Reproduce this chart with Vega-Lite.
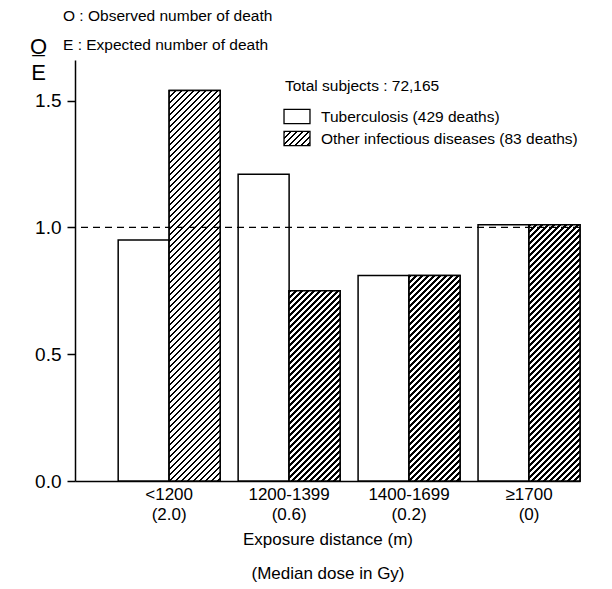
{
  "$schema": "https://vega.github.io/schema/vega-lite/v6.json",
  "width": 505,
  "height": 421,
  "autosize": {"type": "none"},
  "padding": {"left": 75, "top": 60, "right": 32, "bottom": 108},
  "config": {
    "font": "Liberation Sans",
    "view": {"stroke": null},
    "axis": {"labelColor": "black", "titleColor": "black", "domainColor": "black", "tickColor": "black", "grid": false, "titleFontWeight": "normal"}
  },
  "params": [
    {"name": "hatch", "value": [
{"offset":0,"color":"#000"},{"offset":0.005,"color":"#000"},{"offset":0.005,"color":"#fff"},{"offset":0.0125,"color":"#fff"},
{"offset":0.0125,"color":"#000"},{"offset":0.0175,"color":"#000"},{"offset":0.0175,"color":"#fff"},{"offset":0.025,"color":"#fff"},
{"offset":0.025,"color":"#000"},{"offset":0.03,"color":"#000"},{"offset":0.03,"color":"#fff"},{"offset":0.0375,"color":"#fff"},
{"offset":0.0375,"color":"#000"},{"offset":0.0425,"color":"#000"},{"offset":0.0425,"color":"#fff"},{"offset":0.05,"color":"#fff"},
{"offset":0.05,"color":"#000"},{"offset":0.055,"color":"#000"},{"offset":0.055,"color":"#fff"},{"offset":0.0625,"color":"#fff"},
{"offset":0.0625,"color":"#000"},{"offset":0.0675,"color":"#000"},{"offset":0.0675,"color":"#fff"},{"offset":0.075,"color":"#fff"},
{"offset":0.075,"color":"#000"},{"offset":0.08,"color":"#000"},{"offset":0.08,"color":"#fff"},{"offset":0.0875,"color":"#fff"},
{"offset":0.0875,"color":"#000"},{"offset":0.0925,"color":"#000"},{"offset":0.0925,"color":"#fff"},{"offset":0.1,"color":"#fff"},
{"offset":0.1,"color":"#000"},{"offset":0.105,"color":"#000"},{"offset":0.105,"color":"#fff"},{"offset":0.1125,"color":"#fff"},
{"offset":0.1125,"color":"#000"},{"offset":0.1175,"color":"#000"},{"offset":0.1175,"color":"#fff"},{"offset":0.125,"color":"#fff"},
{"offset":0.125,"color":"#000"},{"offset":0.13,"color":"#000"},{"offset":0.13,"color":"#fff"},{"offset":0.1375,"color":"#fff"},
{"offset":0.1375,"color":"#000"},{"offset":0.1425,"color":"#000"},{"offset":0.1425,"color":"#fff"},{"offset":0.15,"color":"#fff"},
{"offset":0.15,"color":"#000"},{"offset":0.155,"color":"#000"},{"offset":0.155,"color":"#fff"},{"offset":0.1625,"color":"#fff"},
{"offset":0.1625,"color":"#000"},{"offset":0.1675,"color":"#000"},{"offset":0.1675,"color":"#fff"},{"offset":0.175,"color":"#fff"},
{"offset":0.175,"color":"#000"},{"offset":0.18,"color":"#000"},{"offset":0.18,"color":"#fff"},{"offset":0.1875,"color":"#fff"},
{"offset":0.1875,"color":"#000"},{"offset":0.1925,"color":"#000"},{"offset":0.1925,"color":"#fff"},{"offset":0.2,"color":"#fff"},
{"offset":0.2,"color":"#000"},{"offset":0.205,"color":"#000"},{"offset":0.205,"color":"#fff"},{"offset":0.2125,"color":"#fff"},
{"offset":0.2125,"color":"#000"},{"offset":0.2175,"color":"#000"},{"offset":0.2175,"color":"#fff"},{"offset":0.225,"color":"#fff"},
{"offset":0.225,"color":"#000"},{"offset":0.23,"color":"#000"},{"offset":0.23,"color":"#fff"},{"offset":0.2375,"color":"#fff"},
{"offset":0.2375,"color":"#000"},{"offset":0.2425,"color":"#000"},{"offset":0.2425,"color":"#fff"},{"offset":0.25,"color":"#fff"},
{"offset":0.25,"color":"#000"},{"offset":0.255,"color":"#000"},{"offset":0.255,"color":"#fff"},{"offset":0.2625,"color":"#fff"},
{"offset":0.2625,"color":"#000"},{"offset":0.2675,"color":"#000"},{"offset":0.2675,"color":"#fff"},{"offset":0.275,"color":"#fff"},
{"offset":0.275,"color":"#000"},{"offset":0.28,"color":"#000"},{"offset":0.28,"color":"#fff"},{"offset":0.2875,"color":"#fff"},
{"offset":0.2875,"color":"#000"},{"offset":0.2925,"color":"#000"},{"offset":0.2925,"color":"#fff"},{"offset":0.3,"color":"#fff"},
{"offset":0.3,"color":"#000"},{"offset":0.305,"color":"#000"},{"offset":0.305,"color":"#fff"},{"offset":0.3125,"color":"#fff"},
{"offset":0.3125,"color":"#000"},{"offset":0.3175,"color":"#000"},{"offset":0.3175,"color":"#fff"},{"offset":0.325,"color":"#fff"},
{"offset":0.325,"color":"#000"},{"offset":0.33,"color":"#000"},{"offset":0.33,"color":"#fff"},{"offset":0.3375,"color":"#fff"},
{"offset":0.3375,"color":"#000"},{"offset":0.3425,"color":"#000"},{"offset":0.3425,"color":"#fff"},{"offset":0.35,"color":"#fff"},
{"offset":0.35,"color":"#000"},{"offset":0.355,"color":"#000"},{"offset":0.355,"color":"#fff"},{"offset":0.3625,"color":"#fff"},
{"offset":0.3625,"color":"#000"},{"offset":0.3675,"color":"#000"},{"offset":0.3675,"color":"#fff"},{"offset":0.375,"color":"#fff"},
{"offset":0.375,"color":"#000"},{"offset":0.38,"color":"#000"},{"offset":0.38,"color":"#fff"},{"offset":0.3875,"color":"#fff"},
{"offset":0.3875,"color":"#000"},{"offset":0.3925,"color":"#000"},{"offset":0.3925,"color":"#fff"},{"offset":0.4,"color":"#fff"},
{"offset":0.4,"color":"#000"},{"offset":0.405,"color":"#000"},{"offset":0.405,"color":"#fff"},{"offset":0.4125,"color":"#fff"},
{"offset":0.4125,"color":"#000"},{"offset":0.4175,"color":"#000"},{"offset":0.4175,"color":"#fff"},{"offset":0.425,"color":"#fff"},
{"offset":0.425,"color":"#000"},{"offset":0.43,"color":"#000"},{"offset":0.43,"color":"#fff"},{"offset":0.4375,"color":"#fff"},
{"offset":0.4375,"color":"#000"},{"offset":0.4425,"color":"#000"},{"offset":0.4425,"color":"#fff"},{"offset":0.45,"color":"#fff"},
{"offset":0.45,"color":"#000"},{"offset":0.455,"color":"#000"},{"offset":0.455,"color":"#fff"},{"offset":0.4625,"color":"#fff"},
{"offset":0.4625,"color":"#000"},{"offset":0.4675,"color":"#000"},{"offset":0.4675,"color":"#fff"},{"offset":0.475,"color":"#fff"},
{"offset":0.475,"color":"#000"},{"offset":0.48,"color":"#000"},{"offset":0.48,"color":"#fff"},{"offset":0.4875,"color":"#fff"},
{"offset":0.4875,"color":"#000"},{"offset":0.4925,"color":"#000"},{"offset":0.4925,"color":"#fff"},{"offset":0.5,"color":"#fff"},
{"offset":0.5,"color":"#000"},{"offset":0.505,"color":"#000"},{"offset":0.505,"color":"#fff"},{"offset":0.5125,"color":"#fff"},
{"offset":0.5125,"color":"#000"},{"offset":0.5175,"color":"#000"},{"offset":0.5175,"color":"#fff"},{"offset":0.525,"color":"#fff"},
{"offset":0.525,"color":"#000"},{"offset":0.53,"color":"#000"},{"offset":0.53,"color":"#fff"},{"offset":0.5375,"color":"#fff"},
{"offset":0.5375,"color":"#000"},{"offset":0.5425,"color":"#000"},{"offset":0.5425,"color":"#fff"},{"offset":0.55,"color":"#fff"},
{"offset":0.55,"color":"#000"},{"offset":0.555,"color":"#000"},{"offset":0.555,"color":"#fff"},{"offset":0.5625,"color":"#fff"},
{"offset":0.5625,"color":"#000"},{"offset":0.5675,"color":"#000"},{"offset":0.5675,"color":"#fff"},{"offset":0.575,"color":"#fff"},
{"offset":0.575,"color":"#000"},{"offset":0.58,"color":"#000"},{"offset":0.58,"color":"#fff"},{"offset":0.5875,"color":"#fff"},
{"offset":0.5875,"color":"#000"},{"offset":0.5925,"color":"#000"},{"offset":0.5925,"color":"#fff"},{"offset":0.6,"color":"#fff"},
{"offset":0.6,"color":"#000"},{"offset":0.605,"color":"#000"},{"offset":0.605,"color":"#fff"},{"offset":0.6125,"color":"#fff"},
{"offset":0.6125,"color":"#000"},{"offset":0.6175,"color":"#000"},{"offset":0.6175,"color":"#fff"},{"offset":0.625,"color":"#fff"},
{"offset":0.625,"color":"#000"},{"offset":0.63,"color":"#000"},{"offset":0.63,"color":"#fff"},{"offset":0.6375,"color":"#fff"},
{"offset":0.6375,"color":"#000"},{"offset":0.6425,"color":"#000"},{"offset":0.6425,"color":"#fff"},{"offset":0.65,"color":"#fff"},
{"offset":0.65,"color":"#000"},{"offset":0.655,"color":"#000"},{"offset":0.655,"color":"#fff"},{"offset":0.6625,"color":"#fff"},
{"offset":0.6625,"color":"#000"},{"offset":0.6675,"color":"#000"},{"offset":0.6675,"color":"#fff"},{"offset":0.675,"color":"#fff"},
{"offset":0.675,"color":"#000"},{"offset":0.68,"color":"#000"},{"offset":0.68,"color":"#fff"},{"offset":0.6875,"color":"#fff"},
{"offset":0.6875,"color":"#000"},{"offset":0.6925,"color":"#000"},{"offset":0.6925,"color":"#fff"},{"offset":0.7,"color":"#fff"},
{"offset":0.7,"color":"#000"},{"offset":0.705,"color":"#000"},{"offset":0.705,"color":"#fff"},{"offset":0.7125,"color":"#fff"},
{"offset":0.7125,"color":"#000"},{"offset":0.7175,"color":"#000"},{"offset":0.7175,"color":"#fff"},{"offset":0.725,"color":"#fff"},
{"offset":0.725,"color":"#000"},{"offset":0.73,"color":"#000"},{"offset":0.73,"color":"#fff"},{"offset":0.7375,"color":"#fff"},
{"offset":0.7375,"color":"#000"},{"offset":0.7425,"color":"#000"},{"offset":0.7425,"color":"#fff"},{"offset":0.75,"color":"#fff"},
{"offset":0.75,"color":"#000"},{"offset":0.755,"color":"#000"},{"offset":0.755,"color":"#fff"},{"offset":0.7625,"color":"#fff"},
{"offset":0.7625,"color":"#000"},{"offset":0.7675,"color":"#000"},{"offset":0.7675,"color":"#fff"},{"offset":0.775,"color":"#fff"},
{"offset":0.775,"color":"#000"},{"offset":0.78,"color":"#000"},{"offset":0.78,"color":"#fff"},{"offset":0.7875,"color":"#fff"},
{"offset":0.7875,"color":"#000"},{"offset":0.7925,"color":"#000"},{"offset":0.7925,"color":"#fff"},{"offset":0.8,"color":"#fff"},
{"offset":0.8,"color":"#000"},{"offset":0.805,"color":"#000"},{"offset":0.805,"color":"#fff"},{"offset":0.8125,"color":"#fff"},
{"offset":0.8125,"color":"#000"},{"offset":0.8175,"color":"#000"},{"offset":0.8175,"color":"#fff"},{"offset":0.825,"color":"#fff"},
{"offset":0.825,"color":"#000"},{"offset":0.83,"color":"#000"},{"offset":0.83,"color":"#fff"},{"offset":0.8375,"color":"#fff"},
{"offset":0.8375,"color":"#000"},{"offset":0.8425,"color":"#000"},{"offset":0.8425,"color":"#fff"},{"offset":0.85,"color":"#fff"},
{"offset":0.85,"color":"#000"},{"offset":0.855,"color":"#000"},{"offset":0.855,"color":"#fff"},{"offset":0.8625,"color":"#fff"},
{"offset":0.8625,"color":"#000"},{"offset":0.8675,"color":"#000"},{"offset":0.8675,"color":"#fff"},{"offset":0.875,"color":"#fff"},
{"offset":0.875,"color":"#000"},{"offset":0.88,"color":"#000"},{"offset":0.88,"color":"#fff"},{"offset":0.8875,"color":"#fff"},
{"offset":0.8875,"color":"#000"},{"offset":0.8925,"color":"#000"},{"offset":0.8925,"color":"#fff"},{"offset":0.9,"color":"#fff"},
{"offset":0.9,"color":"#000"},{"offset":0.905,"color":"#000"},{"offset":0.905,"color":"#fff"},{"offset":0.9125,"color":"#fff"},
{"offset":0.9125,"color":"#000"},{"offset":0.9175,"color":"#000"},{"offset":0.9175,"color":"#fff"},{"offset":0.925,"color":"#fff"},
{"offset":0.925,"color":"#000"},{"offset":0.93,"color":"#000"},{"offset":0.93,"color":"#fff"},{"offset":0.9375,"color":"#fff"},
{"offset":0.9375,"color":"#000"},{"offset":0.9425,"color":"#000"},{"offset":0.9425,"color":"#fff"},{"offset":0.95,"color":"#fff"},
{"offset":0.95,"color":"#000"},{"offset":0.955,"color":"#000"},{"offset":0.955,"color":"#fff"},{"offset":0.9625,"color":"#fff"},
{"offset":0.9625,"color":"#000"},{"offset":0.9675,"color":"#000"},{"offset":0.9675,"color":"#fff"},{"offset":0.975,"color":"#fff"},
{"offset":0.975,"color":"#000"},{"offset":0.98,"color":"#000"},{"offset":0.98,"color":"#fff"},{"offset":0.9875,"color":"#fff"},
{"offset":0.9875,"color":"#000"},{"offset":0.9925,"color":"#000"},{"offset":0.9925,"color":"#fff"},{"offset":1,"color":"#fff"}
    ]}
  ],
  "title": {
    "text": ["O : Observed number of death", "E : Expected number of death"],
    "anchor": "start",
    "frame": "group",
    "dx": -12,
    "fontSize": 15.5,
    "fontWeight": "normal",
    "lineHeight": 29,
    "color": "black",
    "offset": -18
  },
  "data": {"values": [
    {"group": "<1200 (2.0)", "series": "Tuberculosis (429 deaths)", "value": 0.95},
    {"group": "<1200 (2.0)", "series": "Other infectious diseases (83 deaths)", "value": 1.54},
    {"group": "1200-1399 (0.6)", "series": "Tuberculosis (429 deaths)", "value": 1.21},
    {"group": "1200-1399 (0.6)", "series": "Other infectious diseases (83 deaths)", "value": 0.75},
    {"group": "1400-1699 (0.2)", "series": "Tuberculosis (429 deaths)", "value": 0.81},
    {"group": "1400-1699 (0.2)", "series": "Other infectious diseases (83 deaths)", "value": 0.81},
    {"group": "≥1700 (0)", "series": "Tuberculosis (429 deaths)", "value": 1.01},
    {"group": "≥1700 (0)", "series": "Other infectious diseases (83 deaths)", "value": 1.01}
  ]},
  "layer": [
    {
      "mark": {"type": "bar", "strokeWidth": 1.5},
      "encoding": {
        "x": {"field": "group", "type": "nominal", "sort": null,
          "scale": {"paddingInner": 0.15, "paddingOuter": 0.18, "align": 1},
          "axis": {"title": ["Exposure distance (m)", "(Median dose in Gy)"], "labelExpr": "split(datum.label, ' ')", "labelAngle": 0, "ticks": false, "labelFontSize": 17, "labelLineHeight": 20, "labelPadding": 5, "labelBaseline": "top", "titleFontSize": 17, "titleLineHeight": 34, "titlePadding": 9, "domainWidth": 1.5}},
        "xOffset": {"field": "series", "type": "nominal", "sort": null,
          "scale": {"domain": ["Tuberculosis (429 deaths)", "Other infectious diseases (83 deaths)"], "paddingInner": 0, "paddingOuter": 0}},
        "y": {"field": "value", "type": "quantitative", "stack": null,
          "scale": {"domain": [0, 1.66], "nice": false},
          "axis": {"values": [0, 0.5, 1, 1.5], "format": ".1f", "labelFontSize": 19, "tickSize": 8, "tickWidth": 1.5, "domainWidth": 1.5, "labelPadding": 6,
            "title": ["O̲", "E"], "titleAngle": 0, "titleFontSize": 22, "titleLineHeight": 26, "titleAlign": "center", "titleBaseline": "middle", "titleX": -37, "titleY": -14}},
        "fill": {"field": "series", "type": "nominal", "sort": null,
          "scale": {"domain": ["Tuberculosis (429 deaths)", "Other infectious diseases (83 deaths)"], "range": ["white", {"expr": "{gradient: 'linear', x1: 0, y1: 0, x2: 14.31, y2: 7.75, stops: hatch}"}]},
          "legend": {"orient": "none", "legendX": 210, "legendY": 19, "title": "Total subjects : 72,165", "titleFontSize": 15.5, "titleFontWeight": "normal", "titleColor": "black", "titlePadding": 10,
            "labelFontSize": 15.5, "labelColor": "black", "labelOffset": 12, "labelLimit": 400,
            "symbolType": "M-1.18,-0.64L1.18,-0.64L1.18,0.64L-1.18,0.64Z", "symbolSize": 484, "symbolStrokeWidth": 1.3, "rowPadding": 0}},
        "stroke": {"field": "series", "type": "nominal", "sort": null,
          "scale": {"domain": ["Tuberculosis (429 deaths)", "Other infectious diseases (83 deaths)"], "range": ["black", "black"]},
          "legend": {"orient": "none", "legendX": 210, "legendY": 19, "title": "Total subjects : 72,165", "titleFontSize": 15.5, "titleFontWeight": "normal", "titleColor": "black", "titlePadding": 10,
            "labelFontSize": 15.5, "labelColor": "black", "labelOffset": 12, "labelLimit": 400,
            "symbolType": "M-1.18,-0.64L1.18,-0.64L1.18,0.64L-1.18,0.64Z", "symbolSize": 484, "symbolStrokeWidth": 1.3, "rowPadding": 0}}
      }
    },
    {
      "transform": [{"filter": "datum.series === 'Other infectious diseases (83 deaths)'"}],
      "mark": {"type": "bar", "stroke": "black", "strokeWidth": 1.5,
        "fill": {"expr": "{gradient: 'linear', x1: 0, y1: 0, x2: 480*bandwidth('xOffset')/(pow(bandwidth('xOffset'),2)+pow(scale('y',0)-scale('y',datum.value),2)), y2: 480*(scale('y',0)-scale('y',datum.value))/(pow(bandwidth('xOffset'),2)+pow(scale('y',0)-scale('y',datum.value),2)), stops: hatch}"}},
      "encoding": {
        "x": {"field": "group", "type": "nominal", "sort": null},
        "xOffset": {"field": "series", "type": "nominal", "sort": null},
        "y": {"field": "value", "type": "quantitative", "stack": null}
      }
    },
    {
      "data": {"values": [{}]},
      "mark": {"type": "rule", "strokeDash": [7, 5], "color": "black", "strokeWidth": 1.2},
      "encoding": {"y": {"datum": 1}}
    }
  ]
}
